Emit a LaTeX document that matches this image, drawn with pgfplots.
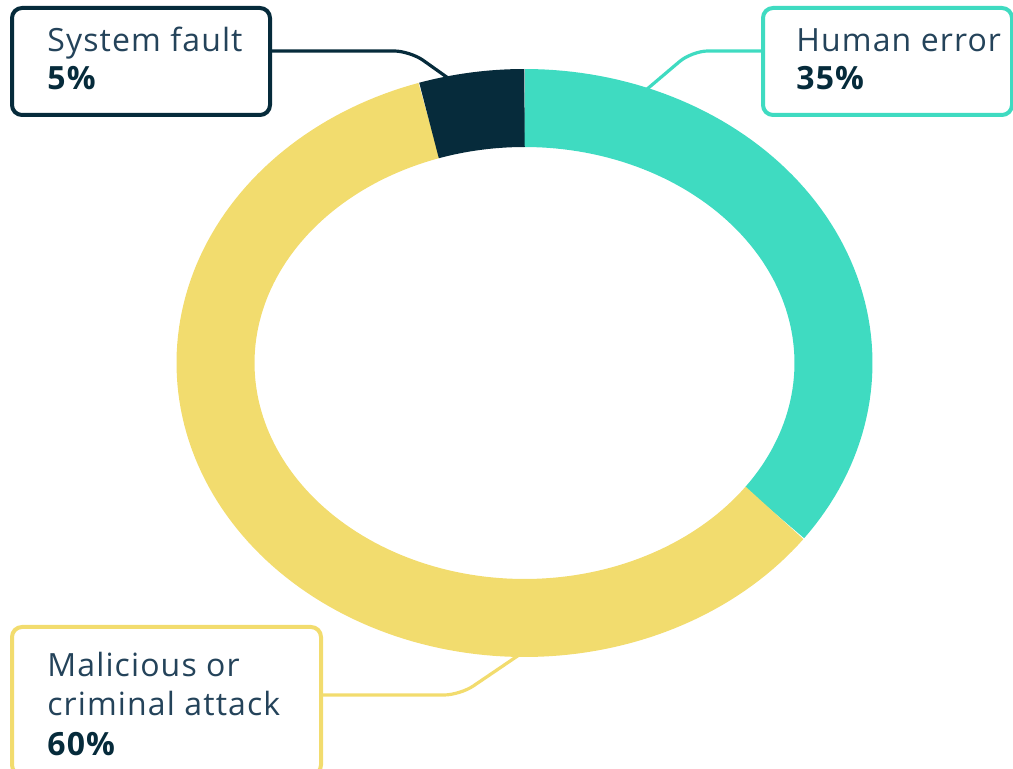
\documentclass[border=0pt]{standalone}
\usepackage{pgfplots}
\pgfplotsset{compat=1.18}
\usepackage{fontspec}
\setmainfont{Open Sans}[LetterSpace=3.5]
\definecolor{teal}{HTML}{3FDBC1}
\definecolor{yel}{HTML}{F2DC6E}
\definecolor{navy}{HTML}{062B3B}
\definecolor{txt}{HTML}{24435A}
% shares (percent)
\def\vHuman{35}
\def\vMal{60}
\def\vSys{5}
\begin{document}
\begin{tikzpicture}
\pgfmathsetmacro{\aA}{90}
\pgfmathsetmacro{\aB}{90-3.6*\vHuman}
\pgfmathsetmacro{\aC}{\aB-3.6*\vMal}
\pgfmathsetmacro{\aD}{\aC-3.6*\vSys}
\begin{axis}[
  width=506.5pt, height=384.5pt, scale only axis,
  xmin=0, xmax=1013, ymin=0, ymax=769, y dir=reverse,
  hide axis, clip=false,
  every axis plot/.append style={line cap=butt, line width=39pt, no markers},
]
% donut ring (center 524.5,363; mid radii 309 x 255)
\addplot[teal, domain=\aB:\aA, samples=80, variable=\t]
  ({524.5+309*cos(t)}, {363-255*sin(t)});
\addplot[yel, domain=\aC:\aB, samples=140, variable=\t]
  ({524.5+309*cos(t)}, {363-255*sin(t)});
\addplot[navy, domain=\aD:\aC, samples=20, variable=\t]
  ({524.5+309*cos(t)}, {363-255*sin(t)});
% leader lines
\draw[navy, line width=1.6pt, rounded corners=8pt] (axis cs:270,51) -- (axis cs:410,51) -- (axis cs:448,78);
\draw[teal, line width=1.6pt, rounded corners=8pt] (axis cs:763,51) -- (axis cs:692,51) -- (axis cs:646,90);
\draw[yel, line width=1.6pt, rounded corners=8pt] (axis cs:321,695) -- (axis cs:460,695) -- (axis cs:519,655);
% boxes
\draw[navy, line width=2pt, rounded corners=5pt, fill=white] (axis cs:12,8) rectangle (axis cs:270,115);
\draw[teal, line width=2pt, rounded corners=5pt, fill=white] (axis cs:763,8) rectangle (axis cs:1012,115);
\draw[yel, line width=2pt, rounded corners=5pt, fill=white] (axis cs:12,627) rectangle (axis cs:321,775);
% texts
\tikzset{lbl/.style={anchor=base west, inner sep=0pt, font=\fontsize{16}{18}\selectfont, text=txt}}
\node[lbl] at (axis cs:47,52) {System fault};
\node[lbl, text=navy, font=\fontsize{16}{18}\selectfont\bfseries] at (axis cs:47,90) {5\%};
\node[lbl] at (axis cs:796,52) {Human error};
\node[lbl, text=navy, font=\fontsize{16}{18}\selectfont\bfseries] at (axis cs:796,90) {35\%};
\node[lbl] at (axis cs:47,677) {Malicious or};
\node[lbl] at (axis cs:47,716) {criminal attack};
\node[lbl, text=navy, font=\fontsize{16}{18}\selectfont\bfseries] at (axis cs:47,756) {60\%};
\end{axis}
\pgfresetboundingbox
\path[use as bounding box] (current axis.south west) rectangle (current axis.north east);
\end{tikzpicture}
\end{document}
